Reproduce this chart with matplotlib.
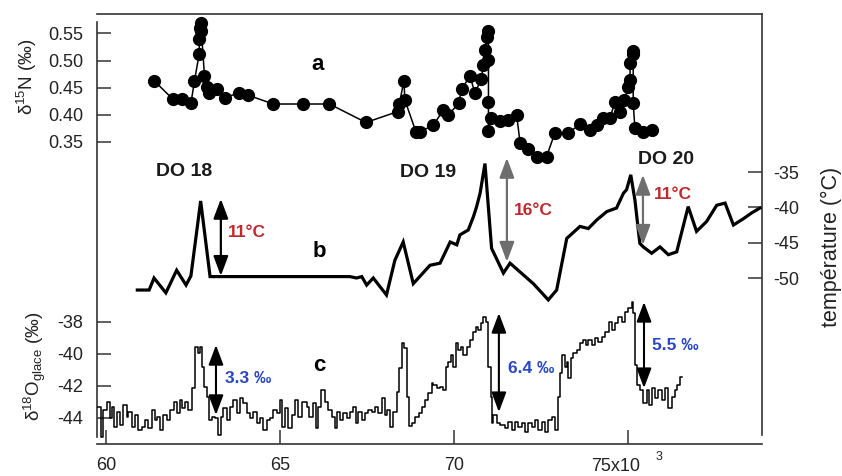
import matplotlib
matplotlib.use("Agg")
import matplotlib.pyplot as plt

plt.rcParams['font.family'] = ['Liberation Sans', 'DejaVu Sans']
plt.rcParams['mathtext.fontset'] = 'custom'
plt.rcParams['mathtext.rm'] = 'Liberation Sans'
plt.rcParams['mathtext.it'] = 'Liberation Sans:italic'

# age in ka (x10^3 yr)
# a : d15N (permil)
n15_age = [61.38, 61.92, 62.17, 62.44, 62.54, 62.68, 62.68, 62.70, 62.72, 62.74, 62.83,
           62.90, 62.97, 63.20, 63.41, 63.81, 64.09, 64.81, 65.65, 66.42, 67.47,
           68.38, 68.43, 68.56, 68.59, 68.91, 69.02, 69.41, 69.69, 69.84, 70.13,
           70.22, 70.46, 70.60, 70.79, 70.84, 70.89, 70.96, 70.99, 70.99, 70.99,
           70.99, 71.05, 71.32, 71.56, 71.80, 71.90, 72.14, 72.38, 72.66, 72.90,
           73.28, 73.62, 73.91, 74.10, 74.29, 74.48, 74.63, 74.77, 74.89, 75.01,
           75.06, 75.06, 75.15, 75.15, 75.15, 75.20, 75.42, 75.68]
n15_val = [0.463, 0.429, 0.429, 0.421, 0.462, 0.513, 0.539, 0.560, 0.569, 0.555, 0.472,
           0.452, 0.440, 0.447, 0.432, 0.440, 0.436, 0.420, 0.420, 0.420, 0.386,
           0.406, 0.420, 0.463, 0.427, 0.368, 0.369, 0.381, 0.409, 0.400, 0.421,
           0.447, 0.472, 0.440, 0.467, 0.492, 0.520, 0.544, 0.555, 0.501, 0.424,
           0.371, 0.394, 0.389, 0.391, 0.400, 0.348, 0.338, 0.323, 0.323, 0.367,
           0.366, 0.383, 0.372, 0.381, 0.394, 0.394, 0.424, 0.406, 0.427, 0.451,
           0.464, 0.495, 0.518, 0.512, 0.421, 0.375, 0.369, 0.372]

# b : temperature (degC)
temp_age = [60.90, 61.24, 61.38, 61.72, 62.03, 62.30, 62.44, 62.72, 62.99, 67.01,
            67.20, 67.35, 67.49, 67.68, 68.06, 68.30, 68.54, 68.83, 69.31, 69.60,
            69.89, 70.08, 70.17, 70.41, 70.56, 70.65, 70.75, 70.89, 71.08, 71.42,
            71.61, 72.28, 72.71, 72.95, 73.24, 73.62, 73.86, 74.10, 74.39, 74.67,
            74.87, 74.96, 75.08, 75.20, 75.34, 75.44, 75.68, 75.92, 76.16, 76.40,
            76.73, 76.97, 77.26, 77.55, 77.79, 78.03, 78.32, 78.55, 78.79]
temp_val = [-51.7, -51.7, -50.0, -52.1, -48.9, -51.0, -49.7, -39.1, -49.8, -49.8,
            -50.0, -49.8, -51.0, -50.0, -52.4, -47.5, -44.9, -50.8, -48.2, -47.9,
            -44.9, -45.3, -43.9, -43.2, -41.3, -39.9, -38.0, -33.8, -45.8, -49.3,
            -47.9, -50.8, -53.1, -51.7, -44.4, -42.7, -43.0, -41.8, -40.6, -40.1,
            -38.0, -37.5, -35.4, -39.0, -45.1, -45.6, -46.5, -45.6, -46.7, -46.3,
            -39.9, -43.4, -42.0, -39.7, -39.4, -42.5, -41.6, -40.8, -40.1]

# c : d18O ice (permil), step record
o18_age = [59.75, 59.86, 59.92, 60.02, 60.12, 60.16, 60.24, 60.31, 60.40, 60.50,
           60.59, 60.64, 60.74, 60.83, 60.93, 61.03, 61.12, 61.22, 61.31, 61.41,
           61.46, 61.55, 61.65, 61.74, 61.84, 61.94, 62.03, 62.13, 62.19, 62.27,
           62.37, 62.46, 62.56, 62.65, 62.70, 62.77, 62.83, 62.89, 62.96, 63.04,
           63.13, 63.23, 63.31, 63.37, 63.47, 63.56, 63.66, 63.76, 63.85, 63.95,
           64.04, 64.14, 64.23, 64.33, 64.43, 64.52, 64.62, 64.71, 64.81, 64.90,
           65.00, 65.07, 65.14, 65.24, 65.34, 65.43, 65.53, 65.62, 65.77, 65.84,
           65.94, 66.04, 66.10, 66.17, 66.29, 66.39, 66.49, 66.58, 66.63, 66.72,
           66.82, 66.92, 67.01, 67.11, 67.18, 67.25, 67.35, 67.44, 67.54, 67.63,
           67.73, 67.83, 67.92, 68.02, 68.08, 68.16, 68.26, 68.35, 68.42, 68.50,
           68.56, 68.64, 68.71, 68.78, 68.88, 68.98, 69.07, 69.17, 69.26, 69.36,
           69.41, 69.50, 69.60, 69.69, 69.76, 69.84, 69.90, 69.98, 70.05, 70.12,
           70.20, 70.27, 70.36, 70.46, 70.54, 70.63, 70.70, 70.77, 70.84, 70.92,
           70.99, 71.05, 71.08, 71.13, 71.23, 71.32, 71.47, 71.56, 71.66, 71.75,
           71.85, 71.94, 72.04, 72.14, 72.23, 72.33, 72.42, 72.52, 72.62, 72.71,
           72.81, 72.90, 73.00, 73.05, 73.09, 73.19, 73.24, 73.29, 73.35, 73.43,
           73.53, 73.62, 73.72, 73.79, 73.86, 73.96, 74.05, 74.15, 74.24, 74.34,
           74.44, 74.53, 74.63, 74.72, 74.82, 74.91, 75.01, 75.11, 75.15, 75.20,
           75.27, 75.35, 75.44, 75.54, 75.61, 75.68, 75.78, 75.87, 75.97, 76.06,
           76.16, 76.26, 76.35, 76.40, 76.49, 76.55]
o18_val = [-43.29, -45.17, -43.50, -42.98, -44.02, -43.29, -44.54, -43.60, -44.44, -43.19,
           -43.92, -43.60, -44.54, -43.81, -44.75, -44.54, -44.13, -44.65, -43.50, -44.13,
           -43.92, -44.75, -43.81, -44.13, -43.50, -42.98, -43.71, -42.88, -43.40, -42.98,
           -43.50, -42.15, -39.54, -39.96, -39.54, -40.79, -42.04, -42.67, -44.13, -43.92,
           -44.02, -45.06, -43.92, -43.40, -44.13, -43.29, -42.88, -43.71, -42.77, -43.08,
           -43.71, -44.02, -43.60, -44.33, -44.02, -44.75, -44.13, -44.02, -43.50, -43.71,
           -42.88, -44.54, -43.40, -44.65, -43.81, -42.88, -43.92, -42.98, -43.29, -43.92,
           -43.08, -44.65, -43.29, -42.25, -42.98, -43.50, -43.92, -44.65, -43.60, -44.13,
           -43.71, -44.02, -43.60, -43.29, -44.33, -43.60, -44.13, -43.71, -43.50, -43.60,
           -43.29, -43.71, -42.77, -43.81, -43.50, -44.54, -43.60, -42.35, -40.90, -39.33,
           -39.65, -42.67, -44.50, -44.33, -43.92, -43.71, -43.29, -42.88, -42.46, -41.83,
           -41.94, -42.15, -42.04, -42.25, -40.79, -40.48, -40.06, -40.79, -39.33, -39.75,
           -39.54, -40.06, -39.54, -39.13, -38.60, -38.29, -38.50, -38.08, -37.67, -37.98,
           -40.79, -42.67, -44.33, -43.81, -44.33, -44.44, -44.65, -44.23, -44.75, -44.23,
           -44.54, -44.33, -44.85, -44.33, -44.54, -44.13, -44.75, -44.23, -44.85, -44.13,
           -43.92, -44.75, -42.67, -41.21, -40.06, -40.79, -40.48, -41.52, -40.27, -39.96,
           -39.75, -39.33, -39.13, -39.44, -39.13, -39.44, -39.02, -39.23, -38.92, -38.60,
           -37.98, -38.50, -38.08, -37.67, -37.98, -37.35, -37.15, -36.73, -37.46, -40.69,
           -41.94, -42.25, -43.08, -42.25, -43.19, -42.15, -42.77, -42.25, -42.88, -42.15,
           -43.40, -42.67, -42.25, -41.94, -41.42, -41.42]

x_ticks = [60, 65, 70, 75]
x_ticklabels = ['60', '65', '70', '']
n15_ticks = [0.35, 0.40, 0.45, 0.50, 0.55]
temp_ticks = [-50, -45, -40, -35]
o18_ticks = [-44, -42, -40, -38]

RED = '#c1272d'
BLUE = '#2a46c4'
GREY = '#6e6e6e'
SPINE = '#333333'
TXT = '#222222'
XLIM = (59.741, 78.851)

fig = plt.figure(figsize=(8.42, 4.76), dpi=100)
rect = [97 / 842, 32 / 476, 665 / 842, 430 / 476]

# frame axis: box + x axis
ax = fig.add_axes(rect)
ax.set_xlim(*XLIM)
ax.set_ylim(0, 1)
for s in ax.spines.values():
    s.set_color(SPINE)
    s.set_linewidth(1.2)
ax.spines['left'].set_bounds(0.016, 0.981)
ax.spines['right'].set_bounds(0.021, 1.0)
ax.set_yticks([])
ax.set_xticks(x_ticks)
ax.set_xticklabels(x_ticklabels)
ax.tick_params(axis='x', direction='in', length=10, width=1.1, color=SPINE,
               labelsize=13, pad=9, labelcolor=TXT)
ax.annotate('75x10', xy=(75, 0), xycoords=('data', 'axes fraction'),
            xytext=(-9, -16.5), textcoords='offset points', ha='center', va='center',
            fontsize=13, color=TXT)
ax.annotate('3', xy=(75, 0), xycoords=('data', 'axes fraction'),
            xytext=(22, -9), textcoords='offset points', ha='center', va='center',
            fontsize=9, color=TXT)


def overlay(ylim):
    a = fig.add_axes(rect)
    a.patch.set_alpha(0)
    a.set_xlim(*XLIM)
    a.set_ylim(*ylim)
    for s in a.spines.values():
        s.set_visible(False)
    a.tick_params(axis='x', bottom=False, labelbottom=False)
    a.tick_params(axis='y', direction='in', length=10, width=1.1, color=SPINE,
                  labelsize=13, labelcolor=TXT)
    return a


# c : d18O
ax_c = overlay((-45.625, -18.75))
ax_c.step(o18_age, o18_val, where='post', color='black', lw=1.1)
ax_c.set_yticks(o18_ticks)
ax_c.set_yticklabels([str(t) for t in o18_ticks])
ax_c.tick_params(axis='y', pad=10)
ax_c.text(66.12, -40.69, 'c', fontsize=16, fontweight='bold', ha='center', va='center')
for xa, top, bot, lab, xt, yt in [(63.16, -39.44, -43.81, '3.3 ‰', 64.08, -41.56),
                                  (71.29, -37.44, -43.63, '6.4 ‰', 72.21, -40.88),
                                  (75.46, -36.75, -42.13, '5.5 ‰', 76.35, -39.44)]:
    ax_c.annotate('', xy=(xa, top), xytext=(xa, bot),
                  arrowprops=dict(arrowstyle='<|-|>,head_length=1.2,head_width=0.45',
                                  color='black', lw=1.5, shrinkA=0, shrinkB=0))
    ax_c.text(xt, yt, lab, color=BLUE, fontsize=12.5, fontweight='bold',
              ha='center', va='center')

# b : temperature
ax_b = overlay((-73.49, -12.64))
ax_b.plot(temp_age, temp_val, color='black', lw=2.3, solid_joinstyle='miter')
ax_b.yaxis.tick_right()
ax_b.set_yticks(temp_ticks)
ax_b.set_yticklabels([str(t) for t in temp_ticks])
ax_b.tick_params(axis='y', pad=8)
ax_b.text(66.12, -46.3, 'b', fontsize=16, fontweight='bold', ha='center', va='center')
for lab, xt, yt in [('DO 18', 62.24, -34.86), ('DO 19', 69.25, -35.0), ('DO 20', 76.09, -33.3)]:
    ax_b.text(xt, yt, lab, fontsize=14, fontweight='bold', ha='center', va='center',
              color='#1a1a1a')
for xa, top, bot, col, lab, xt, yt in [(63.30, -38.8, -49.7, 'black', '11°C', 64.05, -43.6),
                                       (71.52, -33.0, -47.7, GREY, '16°C', 72.27, -40.4),
                                       (75.43, -35.4, -45.3, GREY, '11°C', 76.29, -38.25)]:
    ax_b.annotate('', xy=(xa, top), xytext=(xa, bot),
                  arrowprops=dict(arrowstyle='<|-|>,head_length=1.2,head_width=0.45',
                                  color=col, lw=1.6, shrinkA=0, shrinkB=0))
    ax_b.text(xt, yt, lab, color=RED, fontsize=12.5, fontweight='bold',
              ha='center', va='center')

# a : d15N
ax_a = overlay((-0.2066, 0.5859))
ax_a.plot(n15_age, n15_val, color='black', lw=1.1, marker='o', ms=8.5)
ax_a.set_yticks(n15_ticks)
ax_a.set_yticklabels(['%.2f' % t for t in n15_ticks])
ax_a.tick_params(axis='y', pad=10)
ax_a.text(66.09, 0.492, 'a', fontsize=16, fontweight='bold', ha='center', va='center')

fig.text(27 / 842, 1 - 77 / 476, r'$\mathregular{\delta^{15}}$N (‰)', rotation=90,
         ha='center', va='center', fontsize=13.5, color=TXT)
fig.text(35 / 842, 1 - 366 / 476, r'$\mathregular{\delta^{18}O_{glace}}$ (‰)', rotation=90,
         ha='center', va='center', fontsize=13.5, color=TXT)
fig.text(831 / 842, 1 - 247 / 476, 'température (°C)', rotation=90,
         ha='center', va='center', fontsize=15.5, color=TXT)

fig.savefig('out.png', dpi=100)
